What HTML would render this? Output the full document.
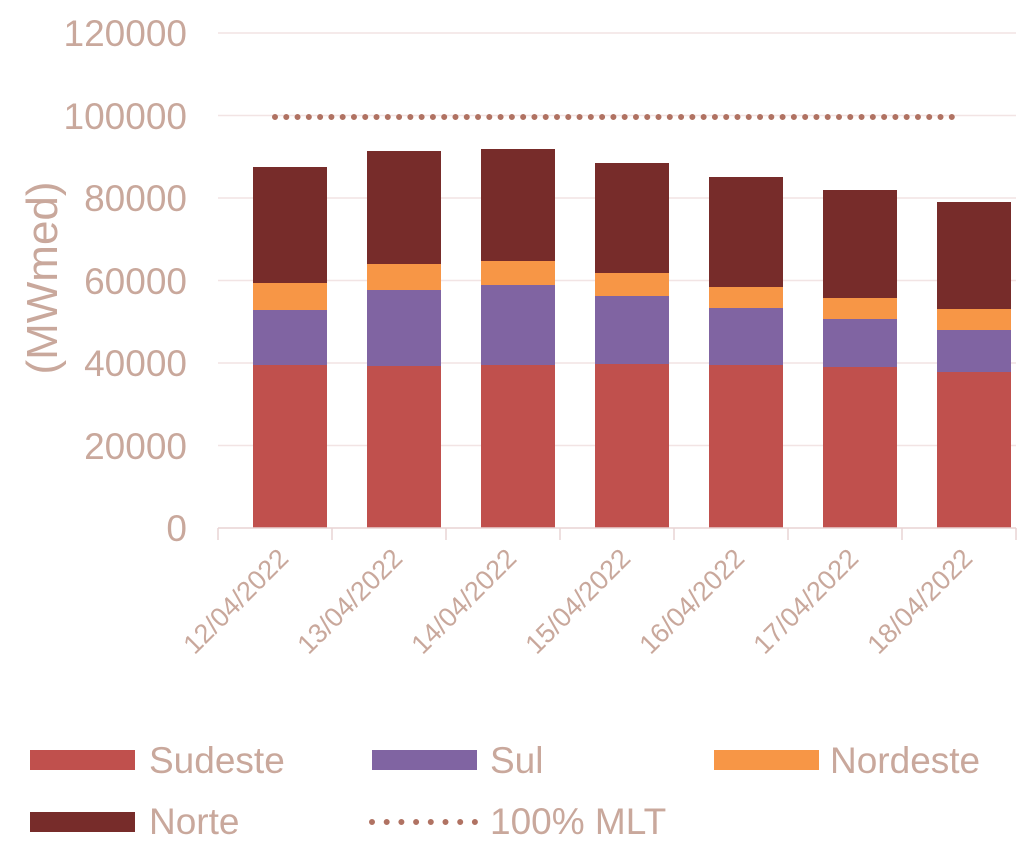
<!DOCTYPE html>
<html><head><meta charset="utf-8"><style>
html,body{margin:0;padding:0;background:#fff;}
svg{display:block;font-family:"Liberation Sans",sans-serif;}
</style></head><body>
<svg width="1024" height="863" viewBox="0 0 1024 863" xmlns="http://www.w3.org/2000/svg">
<g stroke="#f2e4e4" stroke-width="1.5">
<line x1="218" x2="1016" y1="33" y2="33"/>
<line x1="218" x2="1016" y1="115.5" y2="115.5"/>
<line x1="218" x2="1016" y1="198" y2="198"/>
<line x1="218" x2="1016" y1="280.5" y2="280.5"/>
<line x1="218" x2="1016" y1="363" y2="363"/>
<line x1="218" x2="1016" y1="445.5" y2="445.5"/>
</g>
<g fill="#c9a89c" font-size="37" text-anchor="end">
<text x="187" y="46">120000</text>
<text x="187" y="129">100000</text>
<text x="187" y="211">80000</text>
<text x="187" y="294">60000</text>
<text x="187" y="376">40000</text>
<text x="187" y="459">20000</text>
<text x="187" y="541">0</text>
</g>
<text transform="translate(57,278) rotate(-90)" fill="#c9a89c" font-size="44" text-anchor="middle">(MWmed)</text>
<g>
<rect x="253" y="365" width="74" height="163" fill="#c0504d"/><rect x="253" y="310" width="74" height="55" fill="#8064a2"/><rect x="253" y="283" width="74" height="27" fill="#f79646"/><rect x="253" y="167" width="74" height="116" fill="#772c2a"/>
<rect x="367" y="366" width="74" height="162" fill="#c0504d"/><rect x="367" y="290" width="74" height="76" fill="#8064a2"/><rect x="367" y="264" width="74" height="26" fill="#f79646"/><rect x="367" y="151" width="74" height="113" fill="#772c2a"/>
<rect x="481" y="365" width="74" height="163" fill="#c0504d"/><rect x="481" y="285" width="74" height="80" fill="#8064a2"/><rect x="481" y="261" width="74" height="24" fill="#f79646"/><rect x="481" y="149" width="74" height="112" fill="#772c2a"/>
<rect x="595" y="364" width="74" height="164" fill="#c0504d"/><rect x="595" y="296" width="74" height="68" fill="#8064a2"/><rect x="595" y="273" width="74" height="23" fill="#f79646"/><rect x="595" y="163" width="74" height="110" fill="#772c2a"/>
<rect x="709" y="365" width="74" height="163" fill="#c0504d"/><rect x="709" y="308" width="74" height="57" fill="#8064a2"/><rect x="709" y="287" width="74" height="21" fill="#f79646"/><rect x="709" y="177" width="74" height="110" fill="#772c2a"/>
<rect x="823" y="367" width="74" height="161" fill="#c0504d"/><rect x="823" y="319" width="74" height="48" fill="#8064a2"/><rect x="823" y="298" width="74" height="21" fill="#f79646"/><rect x="823" y="190" width="74" height="108" fill="#772c2a"/>
<rect x="937" y="372" width="74" height="156" fill="#c0504d"/><rect x="937" y="330" width="74" height="42" fill="#8064a2"/><rect x="937" y="309" width="74" height="21" fill="#f79646"/><rect x="937" y="202" width="74" height="107" fill="#772c2a"/>
</g>
<g stroke="#e8d4d4" stroke-width="1.5">
<line x1="218" x2="1016" y1="528" y2="528"/>
<line x1="218" x2="218" y1="528" y2="540"/>
<line x1="332" x2="332" y1="528" y2="540"/>
<line x1="446" x2="446" y1="528" y2="540"/>
<line x1="560" x2="560" y1="528" y2="540"/>
<line x1="674" x2="674" y1="528" y2="540"/>
<line x1="788" x2="788" y1="528" y2="540"/>
<line x1="902" x2="902" y1="528" y2="540"/>
<line x1="1016" x2="1016" y1="528" y2="540"/>
</g>
<line x1="275" x2="952" y1="117" y2="117" stroke="#b07262" stroke-width="6" stroke-linecap="round" stroke-dasharray="0 11.28"/>
<g fill="#c9a89c" font-size="27" text-anchor="end">
<text transform="translate(290,560) rotate(-45)">12/04/2022</text>
<text transform="translate(404,560) rotate(-45)">13/04/2022</text>
<text transform="translate(518,560) rotate(-45)">14/04/2022</text>
<text transform="translate(632,560) rotate(-45)">15/04/2022</text>
<text transform="translate(746,560) rotate(-45)">16/04/2022</text>
<text transform="translate(860,560) rotate(-45)">17/04/2022</text>
<text transform="translate(974,560) rotate(-45)">18/04/2022</text>
</g>
<rect x="30" y="750" width="105" height="20" fill="#c0504d"/>
<rect x="372" y="750" width="105" height="20" fill="#8064a2"/>
<rect x="714" y="750" width="105" height="20" fill="#f79646"/>
<rect x="30" y="812" width="105" height="20" fill="#772c2a"/>
<line x1="372" x2="475" y1="822" y2="822" stroke="#b07262" stroke-width="6" stroke-linecap="round" stroke-dasharray="0 14.7"/>
<g fill="#c9a89c" font-size="37">
<text x="149" y="773">Sudeste</text>
<text x="490" y="773">Sul</text>
<text x="830" y="773">Nordeste</text>
<text x="149" y="834">Norte</text>
<text x="490" y="834">100% MLT</text>
</g>
</svg>
</body></html>
